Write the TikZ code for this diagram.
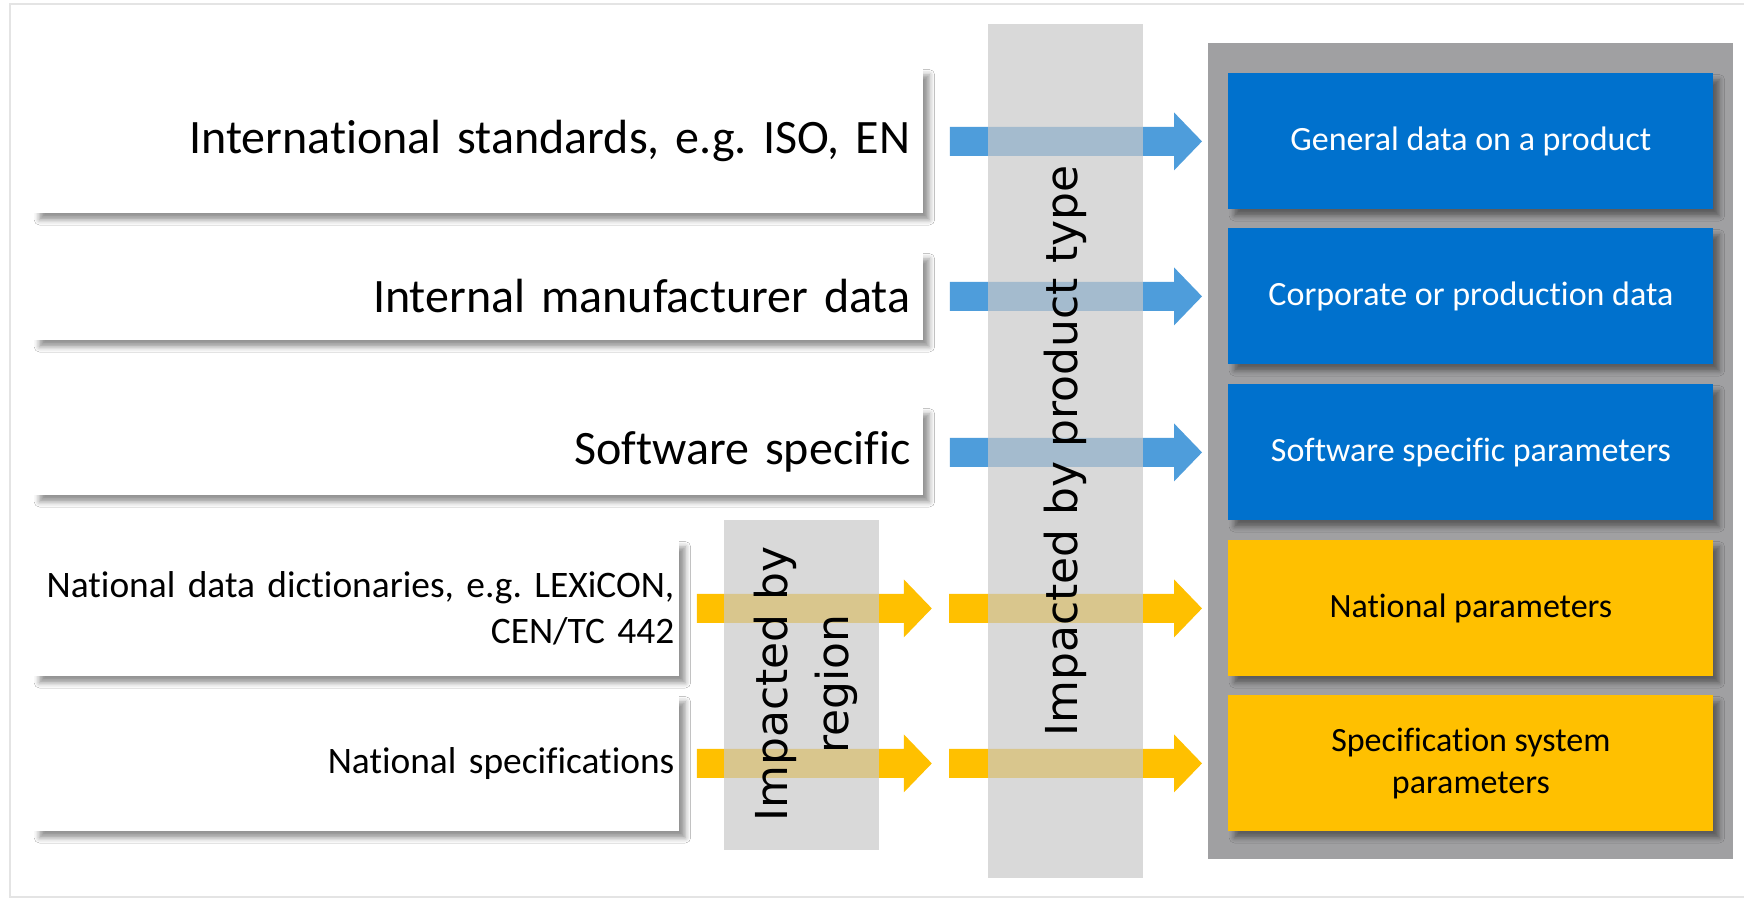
\documentclass[tikz,border=0pt]{standalone}
\usepackage{fontspec}
\setmainfont{Carlito}[Ligatures=NoCommon]
\newfontfamily\dejavu{DejaVu Sans}
\usetikzlibrary{calc,shadows.blur}
\frenchspacing
\hyphenpenalty=10000
\definecolor{bluebox}{HTML}{0071CD}
\definecolor{bluearr}{HTML}{4E9DDB}
\definecolor{yellowbox}{HTML}{FFC000}
\definecolor{panelgray}{HTML}{A0A0A2}
\definecolor{bandgray}{HTML}{C9C9C9}
\definecolor{framegray}{HTML}{E4E4E4}
\tikzset{
  boxshadow/.style={blur shadow={shadow xshift=3pt, shadow yshift=-3.2pt, shadow blur radius=2.6pt, shadow opacity=42}},
  leftbox/.style={anchor=north west, fill=white, draw=none, align=right, boxshadow},
  bigtext/.style={inner sep=6.5pt, font=\fontsize{24}{29}\selectfont},
  smalltext/.style={inner sep=2.5pt, font=\fontsize{18.7}{23}\selectfont},
  rightbox/.style={anchor=north west, draw=none, inner sep=4pt, align=center,
    minimum width=242.5pt, minimum height=68pt, boxshadow, font=\fontsize{17}{21}\selectfont},
  bluefill/.style={rightbox, fill=bluebox, text=white},
  yellowfill/.style={rightbox, fill=yellowbox, text=black},
  band/.style={anchor=north west, fill=bandgray, fill opacity=0.7, draw=none, inner sep=0pt},
  bandlabel/.style={rotate=90, align=center, text=black, font=\dejavu\fontsize{22}{30.5}\selectfont},
}
\newcommand\blkarrow[3]{\fill[#1] let \p1=(#2), \p2=(#3) in
  (\x1,\y2+7.25pt) -- (\x2-14pt,\y2+7.25pt) -- (\x2-14pt,\y2+14.5pt) -- (\x2,\y2)
  -- (\x2-14pt,\y2-14.5pt) -- (\x2-14pt,\y2-7.25pt) -- (\x1,\y2-7.25pt) -- cycle;}
\begin{document}
\begin{tikzpicture}[x=0.5pt,y=-0.5pt]
\path[use as bounding box] (0,0) rectangle (1744,898);
\fill[white] (0,0) rectangle (1744,898);
% outer frame
\coordinate (fa) at (1760,4);
\coordinate (fb) at (10,4);
\coordinate (fc) at (10,897);
\coordinate (fd) at (1760,897);
\draw[framegray, line width=1pt] (fa) -- (fb) -- (fc) -- (fd);
% left boxes
\node[leftbox, bigtext, minimum width=445pt, minimum height=72.5pt, text width=432pt] (L1) at (33,68) {International standards, e.g. ISO, EN};
\node[leftbox, bigtext, minimum width=445pt, minimum height=44pt, text width=432pt] (L2) at (33,252) {Internal manufacturer data};
\node[leftbox, bigtext, minimum width=445pt, minimum height=44pt, text width=432pt] (L3) at (33,407) {Software specific};
\node[leftbox, smalltext, minimum width=323pt, minimum height=68pt, text width=318pt] (L4) at (33,540) {National data dictionaries, e.g. LEXiCON,\\CEN/TC 442};
\node[leftbox, smalltext, minimum width=323pt, minimum height=68pt, text width=318pt] (L5) at (33,695) {National specifications};
% right panel
\node[anchor=north west, fill=panelgray, draw=none, minimum width=262.5pt, minimum height=408pt, inner sep=0pt] (P) at (1208,43) {};
\node[bluefill] (R1) at (1228,73) {General data on a product};
\node[bluefill] (R2) at (1228,228) {Corporate or production data};
\node[bluefill] (R3) at (1228,384) {Software specific parameters};
\node[yellowfill] (R4) at (1228,540) {National parameters};
\node[yellowfill] (R5) at (1228,695) {Specification system\\parameters};
% arrows
\blkarrow{bluearr}{$(L1.east)+(26,0)$}{$(R1.west)+(-26,0)$}
\blkarrow{bluearr}{$(L1.east)+(26,0)$}{$(R2.west)+(-26,0)$}
\blkarrow{bluearr}{$(L1.east)+(26,0)$}{$(R3.west)+(-26,0)$}
\blkarrow{yellowbox}{$(L4.east)+(17,0)$}{$(L4.east)+(252,0)$}
\blkarrow{yellowbox}{$(L5.east)+(17,0)$}{$(L5.east)+(252,0)$}
\blkarrow{yellowbox}{$(R4.west)+(-279,0)$}{$(R4.west)+(-26,0)$}
\blkarrow{yellowbox}{$(R5.west)+(-279,0)$}{$(R5.west)+(-26,0)$}
% bands
\node[band, minimum width=77.5pt, minimum height=427pt] (PT) at (988,24) {};
\node[band, minimum width=77.5pt, minimum height=165pt] (RG) at (724,520) {};
\node[bandlabel] (PTL) at (1065,451) {Impacted by product type};
\node[bandlabel] (RGL) at (806,684) {Impacted by\\region};
\end{tikzpicture}
\end{document}
